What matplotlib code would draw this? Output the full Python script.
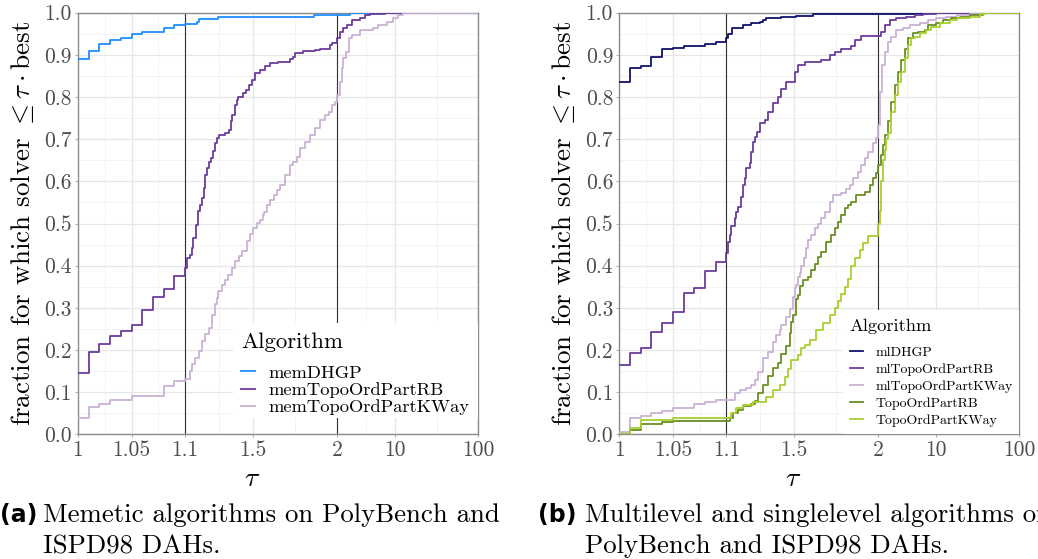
import numpy as np
import matplotlib
matplotlib.use('Agg')
import matplotlib.pyplot as plt
from matplotlib.lines import Line2D
from matplotlib.patches import Rectangle

plt.rcParams['mathtext.fontset'] = 'cm'
plt.rcParams['font.family'] = 'cmr10'
plt.rcParams['axes.formatter.use_mathtext'] = True
plt.rcParams['axes.unicode_minus'] = False

# ---- data (tau, fraction), step "post" ----
mem_dhgp_tau = [1.0, 1.01, 1.02, 1.03, 1.04, 1.05, 1.06, 1.08, 1.09, 1.1, 1.17, 1.183, 1.297, 1.86, 2.87]
mem_dhgp_frac = [0.890, 0.910, 0.925, 0.936, 0.941, 0.950, 0.955, 0.964, 0.971, 0.974, 0.977, 0.985, 0.990, 0.995, 1.0]

mem_rb_tau = [1.0, 1.01, 1.02, 1.03, 1.04, 1.05, 1.06, 1.07, 1.08, 1.09,
              1.1, 1.11, 1.13, 1.143, 1.149, 1.163, 1.175, 1.189, 1.199, 1.209,
              1.218, 1.228, 1.238, 1.254, 1.262, 1.274, 1.288, 1.303, 1.333, 1.361,
              1.372, 1.376, 1.392, 1.406, 1.415, 1.445, 1.459, 1.475, 1.495, 1.514,
              1.544, 1.573, 1.603, 1.652, 1.721, 1.741, 1.751, 1.8, 1.869, 1.899,
              1.958, 1.968, 2.0, 2.17, 2.38, 2.66, 3.0, 3.79, 4.35, 5.0, 7.58]
mem_rb_frac = [0.145, 0.195, 0.215, 0.234, 0.245, 0.260, 0.295, 0.325, 0.345, 0.375,
               0.395, 0.417, 0.426, 0.442, 0.466, 0.497, 0.530, 0.545, 0.560, 0.584,
               0.616, 0.631, 0.647, 0.655, 0.671, 0.691, 0.702, 0.710, 0.714, 0.722,
               0.742, 0.758, 0.781, 0.793, 0.801, 0.809, 0.817, 0.829, 0.841, 0.856,
               0.864, 0.874, 0.880, 0.884, 0.890, 0.896, 0.904, 0.909, 0.911, 0.915,
               0.923, 0.927, 0.939, 0.955, 0.963, 0.972, 0.983, 0.987, 0.994, 0.998, 1.0]

mem_kway_tau = [1.0, 1.01, 1.02, 1.03, 1.05, 1.08, 1.09,
                1.1, 1.13, 1.139, 1.159, 1.179, 1.199, 1.218, 1.238, 1.258, 1.278,
                1.288, 1.297, 1.317, 1.337, 1.356, 1.376, 1.396, 1.416, 1.436, 1.465,
                1.485, 1.504, 1.524, 1.544, 1.558, 1.564, 1.584, 1.603, 1.623, 1.643,
                1.662, 1.692, 1.722, 1.741, 1.761, 1.781, 1.811, 1.84, 1.87, 1.899,
                1.929, 1.949, 1.969, 1.988, 2.0, 2.17, 2.28, 2.38, 2.57, 2.74,
                3.0, 3.79, 5.48, 6.29, 7.93, 9.54, 10.95, 12.5]
mem_kway_frac = [0.039, 0.065, 0.071, 0.081, 0.090, 0.114, 0.126,
                 0.130, 0.150, 0.166, 0.182, 0.197, 0.221, 0.237, 0.253, 0.284, 0.308,
                 0.324, 0.339, 0.355, 0.367, 0.379, 0.395, 0.410, 0.422, 0.434, 0.458,
                 0.474, 0.489, 0.501, 0.509, 0.521, 0.528, 0.544, 0.556, 0.568, 0.579,
                 0.591, 0.615, 0.639, 0.647, 0.658, 0.678, 0.694, 0.710, 0.726, 0.745,
                 0.757, 0.765, 0.781, 0.789, 0.805, 0.836, 0.868, 0.892, 0.907, 0.939,
                 0.947, 0.959, 0.963, 0.971, 0.979, 0.988, 0.994, 1.0]

ml_dhgp_tau = [1.0, 1.01, 1.02, 1.03, 1.04, 1.05, 1.06, 1.08, 1.09, 1.1, 1.11,
               1.134, 1.143, 1.198, 1.248, 1.297, 1.317, 1.337, 1.426, 1.515, 1.613, 7.6]
ml_dhgp_frac = [0.835, 0.870, 0.874, 0.894, 0.914, 0.917, 0.921, 0.926, 0.930, 0.941, 0.949,
                0.963, 0.964, 0.971, 0.975, 0.979, 0.983, 0.987, 0.990, 0.993, 0.997, 1.0]

ml_rb_tau = [1.0, 1.01, 1.02, 1.03, 1.04, 1.05, 1.06, 1.07, 1.08, 1.09,
             1.1, 1.11, 1.12, 1.13, 1.149, 1.159, 1.169, 1.185, 1.198, 1.208,
             1.218, 1.238, 1.248, 1.258, 1.268, 1.284, 1.297, 1.327, 1.346, 1.376,
             1.406, 1.426, 1.455, 1.504, 1.524, 1.564, 1.663, 1.712, 1.741, 1.781,
             1.84, 1.86, 1.899, 2.17, 2.38, 2.74, 3.3, 4.37, 5.5, 6.94, 10.08]
ml_rb_frac = [0.164, 0.194, 0.204, 0.243, 0.263, 0.289, 0.334, 0.348, 0.388, 0.408,
              0.429, 0.457, 0.473, 0.495, 0.512, 0.528, 0.540, 0.564, 0.591, 0.607,
              0.631, 0.643, 0.670, 0.694, 0.706, 0.718, 0.738, 0.745, 0.765, 0.785,
              0.800, 0.820, 0.836, 0.860, 0.876, 0.884, 0.888, 0.900, 0.907, 0.915,
              0.922, 0.935, 0.945, 0.955, 0.971, 0.983, 0.987, 0.990, 0.994, 0.998, 1.0]

ml_kway_tau = [1.0, 1.01, 1.02, 1.03, 1.04, 1.05, 1.07, 1.08, 1.09,
               1.149, 1.178, 1.218, 1.248, 1.268, 1.287, 1.317, 1.346, 1.376, 1.396,
               1.416, 1.426, 1.455, 1.475, 1.494, 1.504, 1.514, 1.524, 1.534, 1.544,
               1.56, 1.574, 1.583, 1.603, 1.623, 1.643, 1.663, 1.682, 1.712, 1.731,
               1.781, 1.811, 1.83, 1.85, 1.88, 1.899, 1.919, 1.939, 1.968, 1.988,
               2.0, 2.11, 2.23, 2.38, 2.61, 2.87, 3.3, 3.96, 4.78, 6.32, 7.98,
               10.08, 13.3, 17.6, 25.5, 37.2]
ml_kway_frac = [0.005, 0.038, 0.044, 0.050, 0.055, 0.062, 0.072, 0.076, 0.081,
                0.097, 0.105, 0.111, 0.117, 0.129, 0.147, 0.180, 0.196, 0.220, 0.236,
                0.247, 0.259, 0.279, 0.297, 0.326, 0.346, 0.354, 0.374, 0.382, 0.400,
                0.417, 0.441, 0.461, 0.473, 0.489, 0.500, 0.512, 0.528, 0.552, 0.568,
                0.572, 0.583, 0.591, 0.607, 0.623, 0.639, 0.655, 0.670, 0.690, 0.702,
                0.734, 0.813, 0.876, 0.907, 0.931, 0.943, 0.959, 0.963, 0.971, 0.975, 0.983,
                0.987, 0.990, 0.994, 0.998, 1.0]

topo_rb_tau = [1.0, 1.01, 1.02, 1.04, 1.05,
               1.12, 1.139, 1.169, 1.198, 1.248, 1.268, 1.287, 1.317, 1.346, 1.376,
               1.406, 1.426, 1.455, 1.475, 1.485, 1.494, 1.514, 1.524, 1.534, 1.554,
               1.583, 1.603, 1.623, 1.643, 1.662, 1.692, 1.722, 1.741, 1.761, 1.781,
               1.801, 1.82, 1.84, 1.87, 1.919, 1.949, 1.968, 1.988, 2.0, 2.17,
               2.27, 2.38, 2.61, 2.87, 3.15, 3.45, 3.79, 4.16, 4.57, 5.24,
               6.03, 7.28, 7.98, 10.08, 12.1, 15.3, 19.3, 25.5, 37.2]
topo_rb_frac = [0.0, 0.010, 0.024, 0.028, 0.032,
                0.038, 0.050, 0.058, 0.066, 0.072, 0.079, 0.099, 0.117, 0.139, 0.157,
                0.170, 0.190, 0.210, 0.240, 0.267, 0.283, 0.320, 0.330, 0.352, 0.366,
                0.374, 0.390, 0.405, 0.420, 0.433, 0.455, 0.473, 0.489, 0.504, 0.520,
                0.536, 0.543, 0.551, 0.567, 0.575, 0.591, 0.607, 0.619, 0.639, 0.662,
                0.686, 0.710, 0.742, 0.789, 0.828, 0.860, 0.888, 0.915, 0.939, 0.951,
                0.955, 0.959, 0.971, 0.975, 0.983, 0.987, 0.990, 0.994, 1.0]

topo_kway_tau = [1.0, 1.01, 1.02, 1.05,
                 1.13, 1.159, 1.198, 1.258, 1.337, 1.376, 1.416, 1.445, 1.465, 1.485,
                 1.524, 1.544, 1.564, 1.593, 1.633, 1.672, 1.712, 1.741, 1.761, 1.781,
                 1.8, 1.82, 1.84, 1.86, 1.889, 1.909, 1.939, 2.0, 2.07, 2.17,
                 2.27, 2.38, 2.49, 2.61, 2.87, 3.15, 3.45, 3.79, 4.16, 4.57,
                 5.01, 5.5, 6.32, 7.62, 8.76, 11.06, 14.6, 17.6, 25.5, 33.8, 38.8]
topo_kway_frac = [0.0, 0.014, 0.034, 0.038,
                  0.050, 0.062, 0.070, 0.076, 0.089, 0.105, 0.117, 0.135, 0.155, 0.176,
                  0.188, 0.204, 0.212, 0.224, 0.247, 0.263, 0.283, 0.299, 0.315, 0.332,
                  0.350, 0.368, 0.400, 0.418, 0.437, 0.453, 0.470, 0.500, 0.530, 0.600,
                  0.650, 0.675, 0.700, 0.715, 0.765, 0.805, 0.836, 0.860, 0.892, 0.923,
                  0.939, 0.943, 0.951, 0.959, 0.967, 0.975, 0.983, 0.987, 0.990, 0.998, 1.0]

x_ticks = [1, 1.05, 1.1, 1.5, 2, 10, 100]
x_tick_labels = ['1', '1.05', '1.1', '1.5', '2', '10', '100']
x_minor = [1.025, 1.075, 1.3, 1.75, 4.472, 31.62]
y_ticks = [0.0, 0.1, 0.2, 0.3, 0.4, 0.5, 0.6, 0.7, 0.8, 0.9, 1.0]

# piecewise axis: linear on [1,1.1], linear on [1.1,2], log on [2,100]
B1, B2 = 0.268, 0.648


def fwd(x):
    x = np.asarray(x, dtype=float)
    xs = np.clip(x, 1e-9, None)
    return np.where(x <= 1.1, (x - 1) / 0.1 * B1,
                    np.where(x <= 2, B1 + (x - 1.1) / 0.9 * (B2 - B1),
                             B2 + np.log(xs / 2) / np.log(50) * (1 - B2)))


def inv(y):
    y = np.asarray(y, dtype=float)
    yc = np.clip(y, B2, 3)
    return np.where(y <= B1, 1 + y / B1 * 0.1,
                    np.where(y <= B2, 1.1 + (y - B1) / (B2 - B1) * 0.9,
                             2 * 50 ** ((yc - B2) / (1 - B2))))


def draw_panel(ax, series, leg):
    ax.set_xscale('function', functions=(fwd, inv))
    ax.set_xlim(1, 100)
    ax.set_ylim(0, 1)
    ax.set_xticks(x_ticks)
    ax.set_xticklabels(x_tick_labels)
    ax.set_xticks(x_minor, minor=True)
    ax.set_yticks(y_ticks)
    ax.set_yticklabels([f'{v:.1f}' for v in y_ticks])
    ax.set_yticks(np.arange(0.05, 1.0, 0.1), minor=True)
    ax.grid(which='major', color='#e6e6e6', linewidth=0.9)
    ax.grid(which='minor', color='#f1f1f1', linewidth=0.6)
    ax.set_axisbelow(True)
    ax.tick_params(which='major', labelsize=15.5, labelcolor='#4d4d4d', color='#b3b3b3',
                   length=2.5, width=0.8, pad=2)
    ax.tick_params(which='minor', length=0)
    for s in ax.spines.values():
        s.set_color('#8c8c8c')
        s.set_linewidth(1.0)

    ax.axvline(1.1, color='#333333', linewidth=0.8, zorder=2)
    ax.axvline(2, color='#333333', linewidth=0.8, zorder=2)

    handles = []
    for name, tau, frac, col in series:
        t = np.append(tau, 100)
        f = np.append(frac, frac[-1])
        ax.step(t, f, where='post', color=col, linewidth=1.3, zorder=3)
        handles.append(Line2D([], [], color=col, linewidth=1.3, label=name))

    # white legend background, title and keys
    ax.add_patch(Rectangle(leg['box'][:2], leg['box'][2], leg['box'][3],
                           transform=ax.transAxes, facecolor='white',
                           edgecolor='none', zorder=4))
    ax.text(leg['title_xy'][0], leg['title_xy'][1], 'Algorithm', transform=ax.transAxes,
            fontsize=leg['title_size'], va='center', ha='left', zorder=6)
    lg = ax.legend(handles=handles, loc='upper left', bbox_to_anchor=leg['keys_xy'],
                   prop={'family': 'cmr10', 'size': leg['size']}, frameon=False,
                   handlelength=leg['hlen'], handletextpad=leg['hpad'],
                   labelspacing=leg['spacing'], borderpad=0, borderaxespad=0)
    lg.set_zorder(6)

    ax.set_xlabel(r'$\tau$', fontsize=20)
    ax.xaxis.set_label_coords(0.436, -0.075)
    ax.set_ylabel(r'fraction for which solver $\leq \tau \cdot \mathrm{best}$', fontsize=19.5)
    ax.yaxis.set_label_coords(-0.106, 0.5)


fig = plt.figure(figsize=(10.38, 5.59), dpi=100)
ax1 = fig.add_axes([78 / 1038, 124.7 / 559, 400 / 1038, 421.6 / 559])
ax2 = fig.add_axes([619.3 / 1038, 124.7 / 559, 399.7 / 1038, 421.6 / 559])

draw_panel(ax1, [
    ('memDHGP', mem_dhgp_tau, mem_dhgp_frac, '#1f8fff'),
    ('memTopoOrdPartRB', mem_rb_tau, mem_rb_frac, '#6a3d9a'),
    ('memTopoOrdPartKWay', mem_kway_tau, mem_kway_frac, '#cab2d6'),
], dict(box=(0.3875, 0.038, 0.6125, 0.226), title_xy=(0.4075, 0.219), title_size=16.4,
        keys_xy=(0.4075, 0.165), size=13.3, hlen=0.75, hpad=0.75, spacing=0.08))

draw_panel(ax2, [
    ('mlDHGP', ml_dhgp_tau, ml_dhgp_frac, '#10106e'),
    ('mlTopoOrdPartRB', ml_rb_tau, ml_rb_frac, '#6a3d9a'),
    ('mlTopoOrdPartKWay', ml_kway_tau, ml_kway_frac, '#cab2d6'),
    ('TopoOrdPartRB', topo_rb_tau, topo_rb_frac, '#6b8e23'),
    ('TopoOrdPartKWay', topo_kway_tau, topo_kway_frac, '#a8cf2f'),
], dict(box=(0.5597, 0.0, 0.4403, 0.295), title_xy=(0.5747, 0.257), title_size=13.3,
        keys_xy=(0.5775, 0.208), size=10, hlen=0.95, hpad=0.85, spacing=0.3))

# sub-figure captions
cap_size = 19.3
fig.text(0.0, (559 - 522) / 559, '(a)', fontsize=17, fontweight='bold',
         family='DejaVu Sans', va='baseline')
fig.text(43 / 1038, (559 - 522) / 559, 'Memetic algorithms on PolyBench and',
         fontsize=cap_size, va='baseline')
fig.text(43 / 1038, (559 - 553) / 559, 'ISPD98 DAHs.', fontsize=cap_size, va='baseline')
fig.text(538 / 1038, (559 - 522) / 559, '(b)', fontsize=17, fontweight='bold',
         family='DejaVu Sans', va='baseline')
fig.text(585 / 1038, (559 - 522) / 559, 'Multilevel and singlelevel algorithms on',
         fontsize=cap_size, va='baseline')
fig.text(585 / 1038, (559 - 553) / 559, 'PolyBench and ISPD98 DAHs.',
         fontsize=cap_size, va='baseline')

fig.savefig('out.png', dpi=100)
